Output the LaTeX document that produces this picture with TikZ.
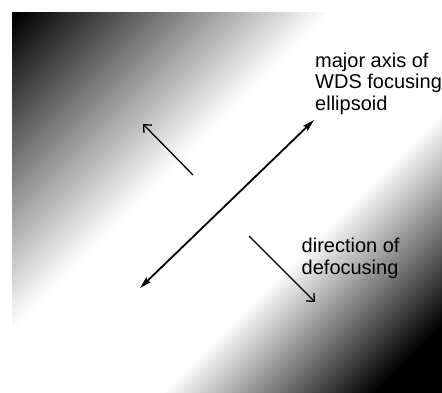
\documentclass[tikz,border=0pt]{standalone}
\usepackage{fontspec}
\setmainfont{Liberation Sans}
\usetikzlibrary{arrows.meta}
\begin{document}
\begin{tikzpicture}[x=1pt,y=-1pt,
  lbl/.style={anchor=base west, align=left, inner sep=0pt, font=\fontsize{20}{21.5}\selectfont},
  axisarrow/.style={line width=1.8pt, {Stealth[length=12pt,width=6.5pt,inset=2pt]}-{Stealth[length=12pt,width=6.5pt,inset=2pt]}},
  dirarrow/.style={line width=1.3pt, -{Straight Barb[length=6pt,width=11pt]}}]
\useasboundingbox (0,0) rectangle (442,392);
\fill[white] (0,0) rectangle (442,392);
\begin{scope}
\clip (12,12) rectangle (442,392);
\foreach \s in {0,2,...,840}{
  \pgfmathsetmacro\g{max(0,min(1,(\s+1-30)/312,(768-\s-1)/213))}
  \pgfmathsetmacro\p{100*(1-\g)}
  \fill[black!\p!white] (\s,0) -- (\s+2.6,0) -- (\s+2.6-1000,1000) -- (\s-1000,1000) -- cycle;
}
\end{scope}
\node[lbl] (major) at (315,110) {major axis of\\WDS focusing\\ellipsoid};
\node[lbl] (defoc) at (301.5,274) {direction of\\defocusing};
\coordinate (axA) at (140,288);
\coordinate (axB) at (314,120);
\coordinate (upS) at (193,175);
\coordinate (upT) at (143,124);
\coordinate (dnS) at (249,236);
\coordinate (dnT) at (315,302);
\draw[axisarrow] (axA) -- (axB);
\draw[dirarrow] (upS) -- (upT);
\draw[dirarrow] (dnS) -- (dnT);
\end{tikzpicture}
\end{document}
